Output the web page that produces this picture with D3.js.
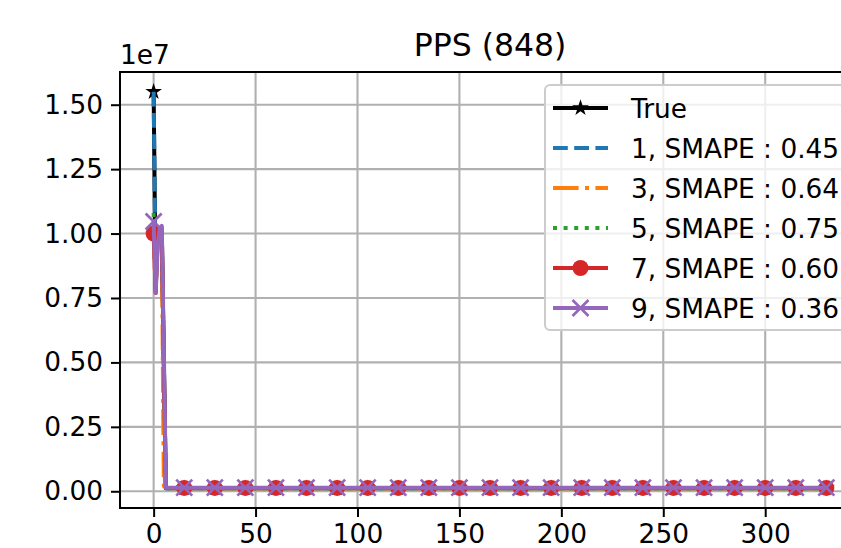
<!DOCTYPE html>
<html>
<head>
<meta charset="utf-8">
<script src="https://cdn.jsdelivr.net/npm/d3@7"></script>
<style>
body{margin:0;background:#fff}
text{font-family:"DejaVu Sans",sans-serif;fill:#000}
</style>
</head>
<body>
<svg id="vis" width="841" height="548"></svg>
<script>
var xs = [0,1,2,3,4,5,6,15,30,45,60,75,90,105,120,135,150,165,180,195,210,225,240,255,270,285,300,315,330]
var trueVals = [1.55e7,0.79e7,1.0e7,1.01e7,1.0e7,0.5e7,1.2e5, 1.2e5,1.2e5,1.2e5,1.2e5,1.2e5,1.2e5,1.2e5,1.2e5,1.2e5,1.2e5,1.2e5,1.2e5,1.2e5,1.2e5,1.2e5,1.2e5,1.2e5,1.2e5,1.2e5,1.2e5,1.2e5,1.2e5]
var s1 = [1.55e7,0.8e7,0.98e7,1.0e7,1.0e7,0.5e7,1.3e5, 1.3e5,1.3e5,1.3e5,1.3e5,1.3e5,1.3e5,1.3e5,1.3e5,1.3e5,1.3e5,1.3e5,1.3e5,1.3e5,1.3e5,1.3e5,1.3e5,1.3e5,1.3e5,1.3e5,1.3e5,1.3e5,1.3e5]
var s3 = [1.0e7,0.77e7,0.98e7,1.0e7,1.0e7,0.02e7,1.2e5, 1.2e5,1.2e5,1.2e5,1.2e5,1.2e5,1.2e5,1.2e5,1.2e5,1.2e5,1.2e5,1.2e5,1.2e5,1.2e5,1.2e5,1.2e5,1.2e5,1.2e5,1.2e5,1.2e5,1.2e5,1.2e5,1.2e5]
var s5 = [1.08e7,0.78e7,1.0e7,1.02e7,1.02e7,0.5e7,1.2e5, 1.2e5,1.2e5,1.2e5,1.2e5,1.2e5,1.2e5,1.2e5,1.2e5,1.2e5,1.2e5,1.2e5,1.2e5,1.2e5,1.2e5,1.2e5,1.2e5,1.2e5,1.2e5,1.2e5,1.2e5,1.2e5,1.2e5]
var s7 = [1.0e7,0.77e7,1.0e7,1.02e7,1.02e7,0.5e7,1.3e5, 1.3e5,1.3e5,1.3e5,1.3e5,1.3e5,1.3e5,1.3e5,1.3e5,1.3e5,1.3e5,1.3e5,1.3e5,1.3e5,1.3e5,1.3e5,1.3e5,1.3e5,1.3e5,1.3e5,1.3e5,1.3e5,1.3e5]
var s9 = [1.047e7,0.77e7,0.95e7,1.02e7,1.03e7,0.55e7,1.4e5, 1.4e5,1.4e5,1.4e5,1.4e5,1.4e5,1.4e5,1.4e5,1.4e5,1.4e5,1.4e5,1.4e5,1.4e5,1.4e5,1.4e5,1.4e5,1.4e5,1.4e5,1.4e5,1.4e5,1.4e5,1.4e5,1.4e5]
var labels = ["True","1, SMAPE : 0.45","3, SMAPE : 0.64","5, SMAPE : 0.75","7, SMAPE : 0.60","9, SMAPE : 0.36"]
var xTicks = [0,50,100,150,200,250,300]
var yTicks = [0,0.25e7,0.5e7,0.75e7,1.0e7,1.25e7,1.5e7]
var title = "PPS (848)"

var lw = 4
var ms = 16
var series = [
    {vals:trueVals, color:"#000000", dash:null, marker:"star"},
    {vals:s1, color:"#1f77b4", dash:"14.8,6.4", marker:null},
    {vals:s3, color:"#ff7f0e", dash:"25.6,6.4,4,6.4", marker:null},
    {vals:s5, color:"#2ca02c", dash:"4,6.6", marker:null},
    {vals:s7, color:"#d62728", dash:null, marker:"circle"},
    {vals:s9, color:"#9467bd", dash:null, marker:"x"}
]

var pL = 120, pR = 860, pT = 72, pB = 508
var svg = d3.select("#vis")
svg.append("rect").attr("width",841).attr("height",548).attr("fill","#fff")

var allY = []
series.forEach(function(s){ allY = allY.concat(s.vals) })
var xExt = d3.extent(xs), yExt = d3.extent(allY)
var xPad = (xExt[1]-xExt[0])*0.05, yPad = (yExt[1]-yExt[0])*0.05
var xScale = d3.scaleLinear().domain([xExt[0]-xPad,xExt[1]+xPad]).range([pL,pR])
var yScale = d3.scaleLinear().domain([yExt[0]-yPad,yExt[1]+yPad]).range([pB,pT])

svg.append("clipPath").attr("id","clip").append("rect")
    .attr("x",pL).attr("y",pT).attr("width",pR-pL).attr("height",pB-pT)

// grid
svg.append("g").selectAll("line").data(xTicks).enter().append("line")
    .attr("x1",function(d){return xScale(d)}).attr("x2",function(d){return xScale(d)})
    .attr("y1",pT).attr("y2",pB)
    .attr("stroke","#b0b0b0").attr("stroke-width",2.1)
svg.append("g").selectAll("line").data(yTicks).enter().append("line")
    .attr("y1",function(d){return yScale(d)}).attr("y2",function(d){return yScale(d)})
    .attr("x1",pL).attr("x2",pR)
    .attr("stroke","#b0b0b0").attr("stroke-width",2.1)

var plot = svg.append("g").attr("clip-path","url(#clip)")
var line = d3.line()
    .x(function(d){return xScale(d.x)})
    .y(function(d){return yScale(d.y)})

function drawMarker(g,type,color){
    if(type=="star"){
        g.append("path").attr("d",d3.symbol().type(d3.symbolStar).size(ms*ms*0.3/0.8908)())
            .attr("fill",color)
    }else if(type=="circle"){
        g.append("circle").attr("r",ms/2).attr("fill",color)
    }else if(type=="x"){
        var h = ms/2
        g.append("path").attr("d","M"+(-h)+","+(-h)+"L"+h+","+h+"M"+(-h)+","+h+"L"+h+","+(-h))
            .attr("stroke",color).attr("stroke-width",2.7).attr("fill","none")
    }
}

series.forEach(function(s){
    var pts = xs.map(function(x,i){return {x:x,y:s.vals[i]}})
    plot.append("path").datum(pts)
        .attr("d",line)
        .attr("fill","none")
        .attr("stroke",s.color)
        .attr("stroke-width",lw)
        .attr("stroke-linejoin","round")
        .attr("stroke-dasharray",s.dash)
    if(s.marker){
        pts.filter(function(d){return d.x%15==0}).forEach(function(d){
            var g = plot.append("g").attr("transform","translate("+xScale(d.x)+","+yScale(d.y)+")")
            drawMarker(g,s.marker,s.color)
        })
    }
})

// axes frame
svg.append("rect").attr("x",pL).attr("y",pT).attr("width",pR-pL).attr("height",pB-pT)
    .attr("fill","none").attr("stroke","#000").attr("stroke-width",2)

var xAxis = d3.axisBottom(xScale).tickValues(xTicks).tickSize(9).tickPadding(7).tickFormat(d3.format("d"))
svg.append("g").attr("transform","translate(0,"+pB+")").call(xAxis)
    .call(function(g){
        g.select(".domain").remove()
        g.selectAll("line").attr("stroke-width",2)
        g.selectAll("text").attr("font-size",26.4).attr("font-family","DejaVu Sans")
    })
var yAxis = d3.axisLeft(yScale).tickValues(yTicks).tickSize(9).tickPadding(8)
    .tickFormat(function(d){return d3.format(".2f")(d/1e7)})
svg.append("g").attr("transform","translate("+pL+",0)").call(yAxis)
    .call(function(g){
        g.select(".domain").remove()
        g.selectAll("line").attr("stroke-width",2)
        g.selectAll("text").attr("font-size",26.4).attr("font-family","DejaVu Sans")
    })

svg.append("text").text("1e7").attr("x",pL).attr("y",64).attr("font-size",26.4)
svg.append("text").text(title).attr("x",(pL+pR)/2).attr("y",56)
    .attr("text-anchor","middle").attr("font-size",31.5)

// legend
var lg = svg.append("g")
lg.append("rect").attr("x",545).attr("y",85).attr("width",302).attr("height",245).attr("rx",5)
    .attr("fill","#fff").attr("fill-opacity",0.8).attr("stroke","#cccccc").attr("stroke-width",2)
series.forEach(function(s,i){
    var cy = 108+i*40
    lg.append("line").attr("x1",553).attr("x2",608).attr("y1",cy).attr("y2",cy)
        .attr("stroke",s.color).attr("stroke-width",lw).attr("stroke-dasharray",s.dash)
    if(s.marker){
        var g = lg.append("g").attr("transform","translate(580.5,"+cy+")")
        drawMarker(g,s.marker,s.color)
    }
    lg.append("text").text(labels[i]).attr("x",631).attr("y",cy+9.5).attr("font-size",26.4)
})
</script>
</body>
</html>
